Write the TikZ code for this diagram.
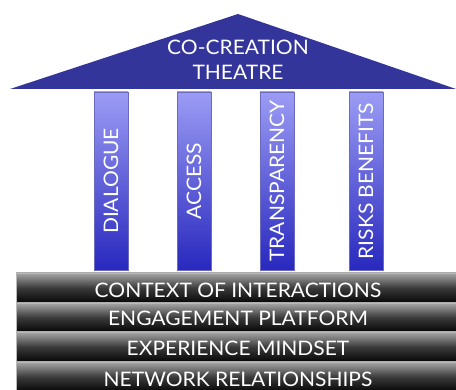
\documentclass[tikz,border=0pt]{standalone}
\usepackage{fontspec}
\setmainfont{Lato}
\newfontfamily\widesans[FakeStretch=1.05]{Lato}
\begin{document}
\begin{tikzpicture}[x=1pt,y=-1pt,
  roofcol/.style={fill=roofblue, draw=none},
  pillar/.style={draw=pillaredge, line width=0.6pt, top color=pillartop, bottom color=pillarbot},
  pillartext/.style={text=white, font=\widesans\fontsize{20}{20}\selectfont, rotate=90, inner sep=0pt},
  slab/.style={draw=slabedge, line width=0.6pt, top color=slabtop, bottom color=slabbot, middle color=slabmid},
  slabtext/.style={text=white, font=\widesans\fontsize{20}{20}\selectfont, inner sep=0pt},
  rooftext/.style={text=white, font=\widesans\fontsize{20}{20}\selectfont, inner sep=0pt}]
\definecolor{roofblue}{HTML}{34359A}
\definecolor{pillartop}{HTML}{9C9CF5}
\definecolor{pillarbot}{HTML}{2828BE}
\definecolor{pillaredge}{HTML}{6A6AC0}
\definecolor{slabtop}{HTML}{A6A6A6}
\definecolor{slabmid}{HTML}{3A3A3A}
\definecolor{slabbot}{HTML}{050505}
\definecolor{slabedge}{HTML}{B8B8B8}
\useasboundingbox (0,0) rectangle (456,390);

% roof
\fill[roofcol] (10,89) -- (238,14) -- (456,89) -- cycle;
\node[rooftext] (roofa) at (238,47) {CO-CREATION};
\node[rooftext] (roofb) at (238,72) {THEATRE};

% pillars
\foreach \x/\lbl/\nm in {94/DIALOGUE/p1, 177/ACCESS/p2, 260/TRANSPARENCY/p3, 349/RISKS BENEFITS/p4}{
  \path[pillar] (\x,92) rectangle ++(34,178);
  \node[pillartext] (\nm) at (\x+17,181) {\lbl};
}

% foundation slabs
\path[slab] (16,273) rectangle (456,303);
\path[slab] (16,303) rectangle (456,332);
\path[slab] (16,332) rectangle (456,362);
\path[slab] (16,362) rectangle (456,392);
\node[slabtext] (s1) at (238,290) {CONTEXT OF INTERACTIONS};
\node[slabtext] (s2) at (238,318) {ENGAGEMENT PLATFORM};
\node[slabtext] (s3) at (238,348) {EXPERIENCE MINDSET};
\node[slabtext] (s4) at (238,379) {NETWORK RELATIONSHIPS};
\end{tikzpicture}
\end{document}
